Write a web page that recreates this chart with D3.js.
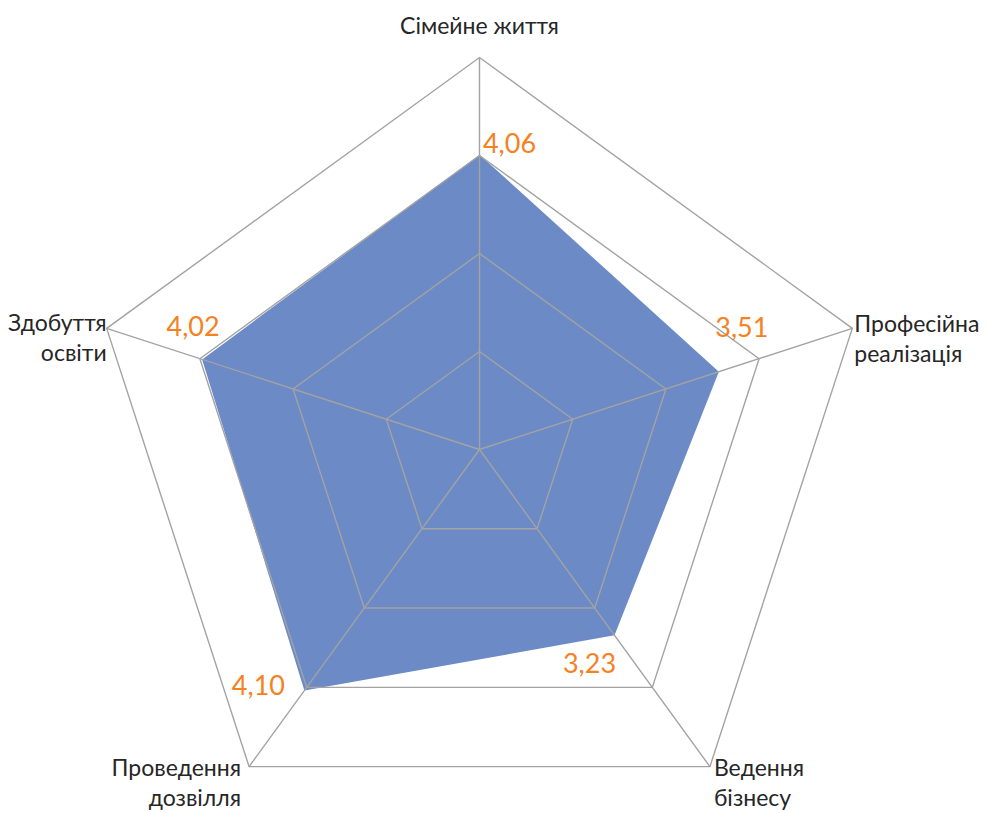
<!DOCTYPE html>
<meta charset="utf-8">
<style>
body { margin: 0; background: #fff; }
.grid { fill: none; stroke: #a3a3a3; stroke-width: 1.4px; }
.cat { font: 23px Lato, "Open Sans", sans-serif; fill: #262626; }
.val { font: 27px Lato, "Open Sans", sans-serif; fill: #f5821f; }
</style>
<svg width="989" height="813"></svg>
<script src="https://d3js.org/d3.v7.min.js"></script>
<script>

var categories = ["Сімейне життя", "Професійна реалізація", "Ведення бізнесу", "Проведення дозвілля", "Здобуття освіти"];
var catLines = [["Сімейне життя"], ["Професійна", "реалізація"], ["Ведення", "бізнесу"], ["Проведення", "дозвілля"], ["Здобуття", "освіти"]];
var values = [4.06, 3.51, 3.23, 4.10, 4.02];
var valueLabels = ["4,06", "3,51", "3,23", "4,10", "4,02"];
var axisMin = 0.3, axisMax = 5.3, rings = 4;

var svg = d3.select("svg"),
    cx = 479.5, cy = 449.5, R = 392,
    g = svg.append("g").attr("transform", "translate(" + cx + "," + cy + ")");

var r = d3.scaleLinear().domain([axisMin, axisMax]).range([0, R]);
var angle = d3.scaleLinear().domain([0, categories.length]).range([0, 2 * Math.PI]);

function pt(i, rad) {
  var a = angle(i);
  return [rad * Math.sin(a), -rad * Math.cos(a)];
}

var line = d3.line().curve(d3.curveLinearClosed);

// data area first, grid on top
g.append("path")
    .attr("d", line(values.map(function(v, i) { return pt(i, r(v)); })))
    .style("fill", "#6b8ac6");

var ringVals = d3.range(1, rings + 1).map(function(k) { return r.invert(R * k / rings); });
g.selectAll(".ring")
  .data(ringVals)
  .enter().append("path")
    .attr("class", "grid")
    .attr("d", function(v) { return line(categories.map(function(c, i) { return pt(i, r(v)); })); });

g.selectAll(".spoke")
  .data(categories)
  .enter().append("line")
    .attr("class", "grid")
    .attr("x2", function(d, i) { return pt(i, R)[0]; })
    .attr("y2", function(d, i) { return pt(i, R)[1]; });

// category labels around the outside
var catPos = [
  { dx: 0, dy: -24, anchor: "middle" },
  { dx: 2, dy: 4, anchor: "start" },
  { dx: 4, dy: 9, anchor: "start" },
  { dx: -8, dy: 9, anchor: "end" },
  { dx: 0, dy: 3, anchor: "end" }
];
g.selectAll(".cat")
  .data(catLines)
  .enter().append("text")
    .attr("class", "cat")
    .attr("text-anchor", function(d, i) { return catPos[i].anchor; })
    .attr("transform", function(d, i) {
      var p = pt(i, R);
      return "translate(" + (p[0] + catPos[i].dx) + "," + (p[1] + catPos[i].dy) + ")";
    })
  .selectAll("tspan")
  .data(function(d) { return d; })
  .enter().append("tspan")
    .attr("x", 0)
    .attr("y", function(d, j) { return j * 30; })
    .text(function(d) { return d; });

// value labels, offset from each point like the original
var valOff = [[30, -11], [23, -44], [-25, 28], [-46, -5], [-9, -33]];
g.selectAll(".val")
  .data(values)
  .enter().append("text")
    .attr("class", "val")
    .attr("text-anchor", "middle")
    .attr("dy", "0.36em")
    .attr("x", function(v, i) { return pt(i, r(v))[0] + valOff[i][0]; })
    .attr("y", function(v, i) { return pt(i, r(v))[1] + valOff[i][1]; })
    .text(function(v, i) { return valueLabels[i]; });

</script>
